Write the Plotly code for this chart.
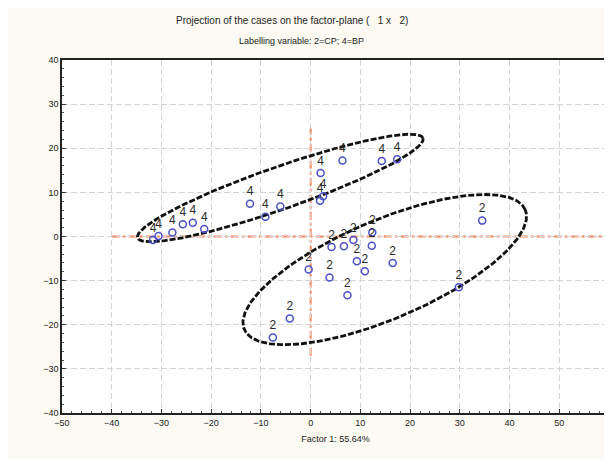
import numpy as np
import plotly.graph_objects as go

# ---- data ----
bp_x = [-31.7, -30.6, -27.8, -25.7, -23.7, -21.4, -12.2, -9.1, -6.1, 1.9, 2.5, 2.0, 6.4, 14.3, 17.4]
bp_y = [-0.8, 0.1, 0.9, 2.8, 3.1, 1.7, 7.4, 4.5, 6.8, 8.1, 9.1, 14.4, 17.2, 17.1, 17.5]
bp_label = "4"

cp_x = [34.5, 4.2, 6.7, 8.6, 12.4, 12.3, 9.3, 10.9, 16.5, -0.4, 3.8, 7.4, 29.8, -4.2, -7.6]
cp_y = [3.6, -2.4, -2.2, -0.8, 0.9, -2.1, -5.6, -7.9, -6.0, -7.5, -9.3, -13.3, -11.5, -18.6, -22.9]
cp_label = "2"

# ellipse parameters: center, major half-vector, minor half-vector (data units)
ell_bp = dict(c=(-6.1, 11.0), u=(28.7, 11.3), v=(-1.41, 4.54))
ell_cp = dict(c=(14.9, -7.5), u=(28.25, 13.56), v=(-3.88, 10.29))

x_ticks = list(range(-50, 61, 10))
y_ticks = list(range(-40, 41, 10))

title_1 = "Projection of the cases on the factor-plane (\u00a0\u00a0\u00a01\u00a0x\u00a0\u00a0\u00a02)"
title_2 = "Labelling variable: 2=CP; 4=BP"
x_title = "Factor 1: 55.64%"

FONT = "Liberation Sans, Arial, sans-serif"

# ---- figure ----
fig = go.Figure()

def ellipse(p):
    t = np.linspace(0, 2 * np.pi, 300)
    cx, cy = p["c"]
    ux, uy = p["u"]
    vx, vy = p["v"]
    return cx + ux * np.cos(t) + vx * np.sin(t), cy + uy * np.cos(t) + vy * np.sin(t)

for p in (ell_bp, ell_cp):
    ex, ey = ellipse(p)
    fig.add_trace(go.Scatter(x=ex, y=ey, mode="lines",
                             line=dict(color="#111111", width=2.8, dash="6px,2px"),
                             hoverinfo="skip", showlegend=False))

for xs, ys, lab in ((bp_x, bp_y, bp_label), (cp_x, cp_y, cp_label)):
    fig.add_trace(go.Scatter(
        x=xs, y=ys, mode="markers+text", text=[lab] * len(xs),
        textposition="top center",
        textfont=dict(family=FONT, size=12, color="#2a2a2a"),
        marker=dict(symbol="circle-open", size=7, color="#4a50c8", line=dict(width=1.5, color="#4a50c8")),
        showlegend=False))

ref = dict(color="#f4845a", width=2, dash="8px,3px,3px,3px")
fig.add_shape(type="line", x0=-40, x1=60, y0=0, y1=0, line=ref, layer="below")
fig.add_shape(type="line", x0=0, x1=0, y0=-27, y1=24.5, line=ref, layer="below")

axis_common = dict(
    showgrid=True, gridcolor="#d4d4d4", griddash="6px,3px", gridwidth=1,
    zeroline=False, showline=True, linecolor="#222222", linewidth=1.5, mirror=True,
    ticks="inside", ticklen=4, tickcolor="#333333",
    minor=dict(ticks="inside", ticklen=2, tickcolor="#555555", dtick=2, showgrid=False),
    tickfont=dict(family=FONT, size=9, color="#222222"),
    ticklabeloverflow="allow", automargin=False,
)

# the page shows the figure shifted by 8 px (body margin)
fig.update_layout(
    width=612, height=459,
    margin=dict(l=54, r=11, t=52, b=54),
    paper_bgcolor="#fcfaf2", plot_bgcolor="white",
    xaxis=dict(range=[-50, 60], tickvals=x_ticks, **axis_common,
               title=dict(text=x_title, font=dict(family=FONT, size=9, color="#222222"), standoff=9)),
    yaxis=dict(range=[-40, 40], tickvals=y_ticks, **axis_common),
    font=dict(family=FONT),
)

fig.add_annotation(text=title_1, xref="paper", yref="paper", x=(292 - 62) / 547, y=1 + 40 / 353,
                   showarrow=False, font=dict(size=10, color="#222222"), xanchor="center", yanchor="middle")
fig.add_annotation(text=title_2, xref="paper", yref="paper", x=(301 - 62) / 547, y=1 + 19 / 353,
                   showarrow=False, font=dict(size=9, color="#222222"), xanchor="center", yanchor="middle")

fig.write_html("out.html")
